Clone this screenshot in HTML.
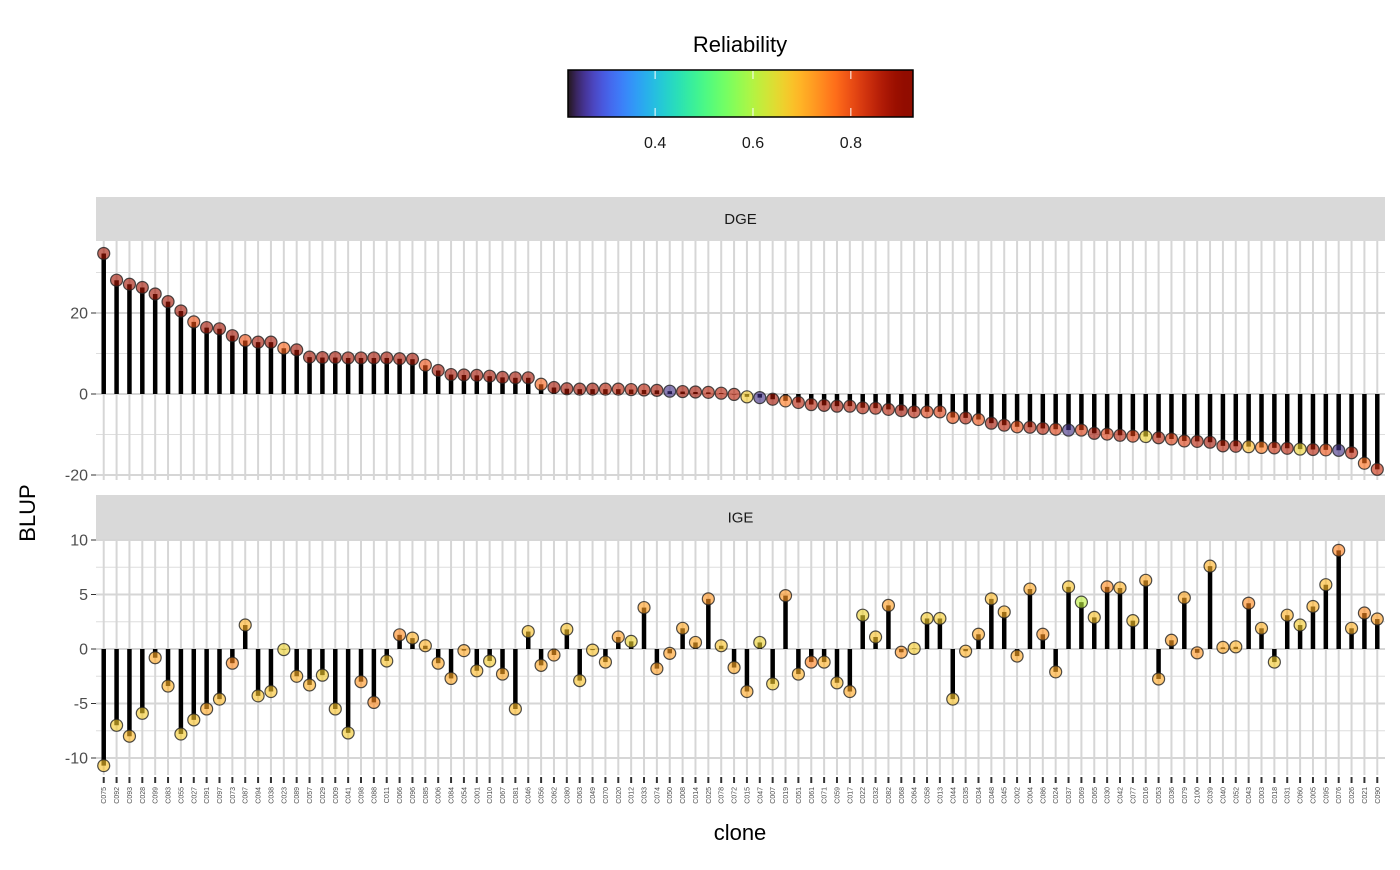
<!DOCTYPE html>
<html><head><meta charset="utf-8"><style>
html,body{margin:0;padding:0;background:#fff;}
svg text{font-family:"Liberation Sans",Arial,sans-serif;}
</style></head><body>
<svg id="chart" width="1400" height="865" viewBox="0 0 1400 865" xmlns="http://www.w3.org/2000/svg">
<defs><linearGradient id="turboGrad" x1="0" x2="1" y1="0" y2="0"></linearGradient></defs>
<g>
<text x="740" y="52" font-size="22" text-anchor="middle" fill="#000">Reliability</text>
<rect x="568" y="70" width="345" height="47" fill="url(#turboGrad)" stroke="#000" stroke-width="1.5"/>
<g id="legendTicks"></g>
</g>
<g id="panels"></g>
<text x="0" y="0" font-size="22" text-anchor="middle" transform="translate(35,513) rotate(-90)" fill="#000">BLUP</text>
<text x="740" y="840" font-size="22" text-anchor="middle" fill="#000">clone</text>
</svg>
<script>
const clones = ["C075","C092","C093","C028","C099","C083","C055","C027","C091","C097","C073","C087","C094","C038","C023","C089","C057","C029","C009","C041","C098","C088","C011","C066","C096",
"C085","C006","C084","C054","C001","C010","C067","C081","C046","C056","C062","C080","C063","C049","C070","C020","C012","C033","C074","C050","C008","C014","C025","C078","C072","C015",
"C047","C007","C019","C051","C061","C071","C059","C017","C022","C032","C082","C068","C064","C058","C013","C044","C035","C034","C048","C045","C002","C004","C086","C024","C037",
"C069","C065","C030","C042","C077","C016","C053","C036","C079","C100","C039","C040","C052","C043","C003","C018","C031","C060","C005","C095","C076","C026","C021","C090"];
const dgeValues = [34.7,28.1,27.1,26.3,24.7,22.8,20.5,17.8,16.4,16.1,14.4,13.2,12.8,12.8,11.3,10.9,9.1,9.0,9.0,8.9,8.9,8.9,8.9,8.7,8.6,
7.1,5.8,4.8,4.7,4.6,4.4,4.1,4.0,4.0,2.4,1.6,1.3,1.2,1.2,1.2,1.2,1.1,1.0,0.9,0.7,0.6,0.5,0.4,0.2,-0.1,
-0.7,-0.9,-1.3,-1.7,-2.1,-2.6,-2.8,-3.0,-3.0,-3.4,-3.5,-3.8,-4.1,-4.4,-4.4,-4.4,-5.8,-5.9,-6.3,-7.2,-7.7,-8.1,-8.2,-8.5,-8.7,
-8.9,-8.9,-9.7,-9.9,-10.2,-10.4,-10.5,-10.8,-11.1,-11.6,-11.7,-11.9,-12.8,-12.9,-13.0,-13.2,-13.3,-13.4,-13.6,-13.7,-13.8,-13.9,-14.5,-17.1,-18.6];
const dgeRel = [0.88,0.88,0.88,0.88,0.88,0.88,0.88,0.8,0.88,0.88,0.88,0.8,0.88,0.88,0.78,0.88,0.88,0.88,0.88,0.88,0.88,0.88,0.88,0.88,0.88,
0.8,0.88,0.88,0.88,0.88,0.88,0.88,0.88,0.88,0.78,0.88,0.88,0.88,0.88,0.86,0.86,0.86,0.86,0.88,0.25,0.88,0.88,0.86,0.86,0.86,
0.67,0.25,0.88,0.76,0.86,0.86,0.88,0.88,0.86,0.86,0.86,0.86,0.88,0.86,0.82,0.82,0.8,0.86,0.8,0.88,0.86,0.8,0.86,0.86,0.82,
0.25,0.82,0.88,0.82,0.86,0.82,0.66,0.86,0.82,0.82,0.86,0.88,0.86,0.86,0.69,0.76,0.84,0.86,0.66,0.86,0.8,0.25,0.85,0.77,0.84];
const igeValues = [-10.7,-7.0,-8.0,-5.9,-0.8,-3.4,-7.8,-6.5,-5.5,-4.6,-1.3,2.2,-4.3,-3.9,-0.05,-2.5,-3.3,-2.4,-5.5,-7.7,-3.0,-4.9,-1.1,1.3,1.0,
0.3,-1.3,-2.7,-0.15,-2.0,-1.1,-2.3,-5.5,1.6,-1.5,-0.55,1.8,-2.9,-0.1,-1.2,1.1,0.7,3.8,-1.8,-0.4,1.9,0.6,4.6,0.3,-1.7,
-3.9,0.6,-3.2,4.9,-2.3,-1.2,-1.2,-3.1,-3.9,3.1,1.1,4.0,-0.3,0.05,2.8,2.8,-4.6,-0.2,1.35,4.6,3.4,-0.65,5.5,1.35,-2.1,
5.7,4.3,2.9,5.7,5.6,2.6,6.3,-2.75,0.8,4.7,-0.35,7.6,0.15,0.2,4.2,1.9,-1.2,3.1,2.2,3.9,5.9,9.05,1.9,3.3,2.75];
const igeRel = [0.68,0.67,0.69,0.67,0.71,0.7,0.67,0.68,0.71,0.69,0.74,0.7,0.68,0.68,0.66,0.7,0.7,0.67,0.68,0.67,0.73,0.74,0.68,0.74,0.7,
0.7,0.71,0.71,0.71,0.69,0.67,0.71,0.69,0.68,0.71,0.72,0.68,0.68,0.68,0.7,0.72,0.66,0.72,0.72,0.72,0.71,0.71,0.73,0.68,0.71,
0.71,0.66,0.67,0.73,0.7,0.75,0.7,0.69,0.71,0.66,0.68,0.72,0.73,0.67,0.67,0.67,0.68,0.7,0.71,0.69,0.7,0.71,0.71,0.73,0.71,
0.68,0.61,0.68,0.74,0.7,0.68,0.71,0.71,0.72,0.71,0.73,0.7,0.71,0.7,0.74,0.7,0.67,0.7,0.67,0.7,0.69,0.75,0.7,0.74,0.72];
const legendTicks = [0.4,0.6,0.8];
const dgeTicks = [20,0,-20];
const dgeMinor = [30,10,-10];
const igeTicks = [10,5,0,-5,-10];
const igeMinor = [7.5,2.5,-2.5,-7.5];

const NS="http://www.w3.org/2000/svg";
function mk(tag,attrs,parent){const e=document.createElementNS(NS,tag);for(const k in attrs)e.setAttribute(k,attrs[k]);parent.appendChild(e);return e;}
const RMIN=0.222,RMAX=0.927;
function turbo(t){t=Math.max(0,Math.min(1,t));
 const r=0.13572138+t*(4.61539260+t*(-42.66032258+t*(132.13108234+t*(-152.94239396+t*59.28637943))));
 const g=0.09140261+t*(2.19418839+t*(4.84296658+t*(-14.18503333+t*(4.27729857+t*2.82956604))));
 const b=0.10667330+t*(12.64194608+t*(-60.58204836+t*(110.36276771+t*(-89.90310912+t*27.34824973))));
 const c=v=>Math.round(255*Math.max(0,Math.min(1,v)));return `rgb(${c(r)},${c(g)},${c(b)})`;}
function relColor(r){return turbo((r-RMIN)/(RMAX-RMIN));}
const grad=document.getElementById('turboGrad');
for(let i=0;i<=40;i++){mk('stop',{offset:(i/40),'stop-color':turbo(i/40)},grad);}
const lt=document.getElementById('legendTicks');
legendTicks.forEach(v=>{const x=568+(v-RMIN)/(RMAX-RMIN)*345;
 mk('line',{x1:x,x2:x,y1:71,y2:79,stroke:'#fff','stroke-width':1},lt);
 mk('line',{x1:x,x2:x,y1:108,y2:116,stroke:'#fff','stroke-width':1},lt);
 const t=mk('text',{x:x,y:148,'font-size':16,'text-anchor':'middle',fill:'#1a1a1a'},lt);t.textContent=v.toFixed(1);
 
 });

const PX0=96,PX1=1385,N=clones.length;
const step=(PX1-PX0)/(N-1+1.2);
function xs(i){return PX0+(i+0.6)*step;}
const panels=document.getElementById('panels');
function drawPanel(name,label,stripY,top,bot,y0,scale,ticks,minor,vals,rel){
 const g=mk('g',{},panels);
 
 
 const ys=v=>y0-v*scale;
 const s=mk('rect',{x:PX0,y:stripY,width:PX1-PX0,height:top-stripY,fill:'#d9d9d9'},g);
 
 
 const st=mk('text',{x:(PX0+PX1)/2,y:(stripY+top)/2+5,'font-size':15,'text-anchor':'middle',fill:'#1a1a1a'},g);st.textContent=label;
 
 
 minor.forEach(v=>mk('line',{x1:PX0,x2:PX1,y1:ys(v),y2:ys(v),stroke:'#dedede','stroke-width':1},g));
 ticks.forEach(v=>{mk('line',{x1:PX0,x2:PX1,y1:ys(v),y2:ys(v),stroke:'#d6d6d6','stroke-width':2},g);
  mk('line',{x1:91,x2:96,y1:ys(v),y2:ys(v),stroke:'#333','stroke-width':1},g);
  const t=mk('text',{x:88,y:ys(v)+5.5,'font-size':16,'text-anchor':'end',fill:'#4d4d4d'},g);t.textContent=String(v);
  
  });
 for(let i=0;i<N;i++)mk('line',{x1:xs(i),x2:xs(i),y1:top,y2:bot,stroke:'#d6d6d6','stroke-width':2},g);
 for(let i=0;i<N;i++){const x=xs(i),y=ys(vals[i]);
  const l=mk('line',{x1:x,x2:x,y1:ys(0),y2:y,stroke:'#000','stroke-width':4.5},g);
  
  }
 for(let i=0;i<N;i++){const x=xs(i),y=ys(vals[i]);
  const c=mk('circle',{cx:x,cy:y,r:6,fill:relColor(rel[i]),'fill-opacity':0.62,stroke:'#222','stroke-opacity':0.8,'stroke-width':1.2},g);
  
  }
}
drawPanel('dge','DGE',197,241,480,394,4.05,dgeTicks,dgeMinor,dgeValues,dgeRel);
drawPanel('ige','IGE',495,540,775,649,10.9,igeTicks,igeMinor,igeValues,igeRel);
const xa=mk('g',{},panels);


for(let i=0;i<N;i++){const x=xs(i);
 mk('line',{x1:x,x2:x,y1:777,y2:783,stroke:'#333','stroke-width':2},xa);
 const t=mk('text',{x:0,y:0,'font-size':7,'text-anchor':'end',fill:'#4d4d4d',transform:`translate(${x+2.5},787) rotate(-90)`},xa);
 t.textContent=clones[i];
 
 }
</script>
</body></html>
